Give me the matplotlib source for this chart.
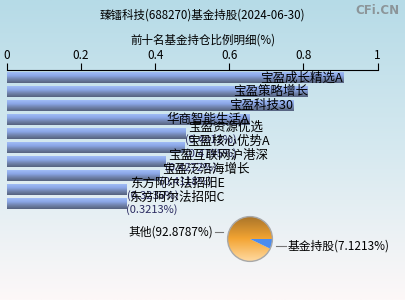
import numpy as np
import matplotlib
matplotlib.use("Agg")
import matplotlib.pyplot as plt
from matplotlib.colors import LinearSegmentedColormap

plt.rcParams['font.family'] = ['Noto Sans CJK SC', 'DejaVu Sans']

funds = ['宝盈成长精选A', '宝盈策略增长', '宝盈科技30', '华商智能生活A', '宝盈资源优选',
         '宝盈核心优势A', '宝盈互联网沪港深', '宝盈泛沿海增长', '东方阿尔法招阳E', '东方阿尔法招阳C']
values = [0.9075, 0.8123, 0.7725, 0.6543, 0.4812, 0.4795, 0.4272, 0.4118, 0.3236, 0.3213]
ticks = [0, 0.2, 0.4, 0.6, 0.8, 1]
pie_labels = ['基金持股', '其他']
pie_values = [7.1213, 92.8787]

W, H = 405, 300
fig = plt.figure(figsize=(W / 100, H / 100), dpi=100)

# background gradient
bg = fig.add_axes([0, 0, 1, 1])
bg_cmap = LinearSegmentedColormap.from_list('bg', ['#b6dbe7', '#d6e9f0', '#fdf8f8'])
bg.imshow(np.linspace(0, 1, 256).reshape(-1, 1), aspect='auto', cmap=bg_cmap,
          extent=(0, 1, 0, 1), origin='upper')
bg.set_axis_off()

fig.text(0.5, 1 - 15 / H, '臻镭科技(688270)基金持股(2024-06-30)', ha='center', va='center', fontsize=8.3)
fig.text(0.5, 1 - 40 / H, '前十名基金持仓比例明细(%)', ha='center', va='center', fontsize=8.3)
fig.text(1 - 6 / W, 1 - 10 / H, 'CFi.CN', ha='right', va='center', fontsize=8.5,
         fontweight='bold', color='#8c9599', family=['DejaVu Sans'])

# bar chart
x0, x1 = 7 / W, 377.5 / W
ytop, ybot = 70, 212
ax = fig.add_axes([x0, 1 - ybot / H, x1 - x0, (ybot - ytop) / H])
ax.patch.set_alpha(0)
ax.set_xlim(0, 1)
ax.set_ylim(9.58, -0.56)
bar_cmap = LinearSegmentedColormap.from_list('bar', ['#a0bcf6', '#8aa6e6', '#7082aa', '#55627e'])
grad = np.linspace(0, 1, 64).reshape(-1, 1)
bh = 0.78
for i, (name, v) in enumerate(zip(funds, values)):
    ax.imshow(grad, aspect='auto', cmap=bar_cmap, extent=(0, v, i + bh / 2, i - bh / 2),
              origin='upper', zorder=2)
for i, (name, v) in enumerate(zip(funds, values)):
    if i < 4:
        ax.text(v, i, name, ha='right', va='center', fontsize=9, zorder=3)
    else:
        ax.text(v + 0.008, i - 0.45, name, ha='left', va='center', fontsize=9, zorder=3)
        ax.text(v, i + 0.4, '(%.4f%%)' % v, ha='left', va='center', fontsize=8,
                color='#2a2a60', zorder=3)
ax.xaxis.tick_top()
ax.set_xticks(ticks)
ax.set_xticklabels(['0', '0.2', '0.4', '0.6', '0.8', '1'])
ax.tick_params(axis='x', direction='out', length=5, width=0.8, labelsize=8.5, pad=1)
ax.set_yticks([])
for s in ['left', 'right', 'bottom']:
    ax.spines[s].set_visible(False)
ax.spines['top'].set_linewidth(0.8)

# pie chart
cx, cy, r = 250, 239, 27
pax = fig.add_axes([(cx - r - 1) / W, 1 - (cy + r + 1) / H, 2 * (r + 1) / W, 2 * (r + 1) / H])
pax.set_xlim(-1.04, 1.04)
pax.set_ylim(-1.04, 1.04)
pax.set_aspect('equal')
pax.set_axis_off()
pie_cmap = LinearSegmentedColormap.from_list('pie', ['#a8742a', '#f3a432', '#ffd9a0'])
pim = pax.imshow(np.linspace(0, 1, 128).reshape(-1, 1), cmap=pie_cmap, aspect='auto',
                 extent=(-1, 1, -1, 1), origin='upper', zorder=1)
wedges, _ = pax.pie(pie_values, startangle=0, counterclock=False, radius=1,
                    colors=['#4a8cf0', 'none'],
                    wedgeprops=dict(linewidth=0), labels=None)
pim.set_clip_path(wedges[1])
wedges[0].set_zorder(2)
circle = plt.Circle((0, 0), 1, fill=False, edgecolor='#a8a8a8', linewidth=1, zorder=3)
pax.add_patch(circle)

# pie labels with leader lines
fig.add_artist(plt.Line2D([(cx - r - 8) / W, (cx - r) / W], [1 - 232 / H, 1 - 232 / H],
                          color='#777777', linewidth=0.8))
fig.text((cx - r - 10) / W, 1 - 232 / H, '%s(%.4f%%)' % (pie_labels[1], pie_values[1]),
         ha='right', va='center', fontsize=8.5)
fig.add_artist(plt.Line2D([(cx + r - 1) / W, (cx + r + 9) / W], [1 - 246 / H, 1 - 246 / H],
                          color='#777777', linewidth=0.8))
fig.text((cx + r + 11) / W, 1 - 246 / H, '%s(%.4f%%)' % (pie_labels[0], pie_values[0]),
         ha='left', va='center', fontsize=8.5)

fig.savefig('out.png', dpi=100)
